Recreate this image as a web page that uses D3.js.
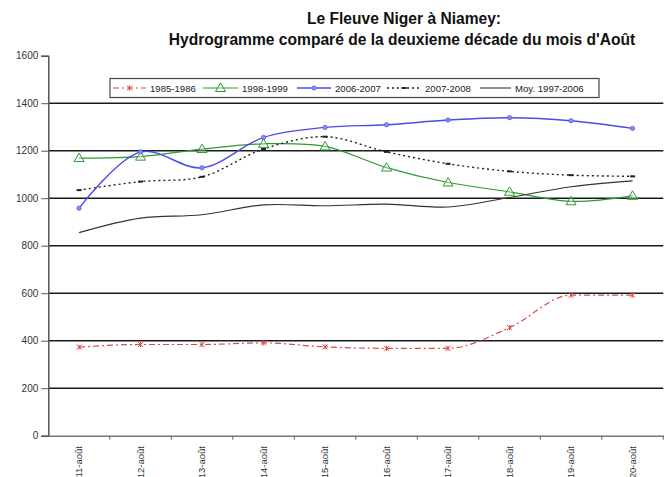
<!DOCTYPE html>
<html><head><meta charset="utf-8">
<script src="https://cdn.jsdelivr.net/npm/d3@7"></script>
<style>body{margin:0;background:#fff}svg{display:block}</style>
</head><body>
<svg id="c" width="667" height="477"></svg>
<script>
const categories = ["11-août","12-août","13-août","14-août","15-août","16-août","17-août","18-août","19-août","20-août"];
const s1985 = [373, 384, 384, 391, 374, 368, 368, 455, 592, 592];
const s1998 = [1169, 1175, 1207, 1229, 1218, 1129, 1066, 1027, 987, 1010];
const s2006 = [958, 1195, 1128, 1256, 1298, 1309, 1329, 1339, 1326, 1294];
const s2007 = [1034, 1070, 1090, 1207, 1259, 1195, 1145, 1113, 1097, 1092];
const sMoy  = [855, 916, 930, 972, 968, 975, 963, 1003, 1048, 1073];
const yTicks = [0, 200, 400, 600, 800, 1000, 1200, 1400, 1600];
const seriesNames = ["1985-1986", "1998-1999", "2006-2007", "2007-2008", "Moy. 1997-2006"];
const titleLines = ["Le Fleuve Niger à Niamey:", "Hydrogramme comparé de la deuxieme décade du mois d'Août"];

const series = [
  {name: seriesNames[0], values: s1985, color: "#e04848", width: 1.2, dash: "6,3,2,3", marker: "x", curve: d3.curveMonotoneX},
  {name: seriesNames[1], values: s1998, color: "#2e9a2e", width: 1.2, dash: null, marker: "tri", curve: d3.curveCatmullRom.alpha(0.5)},
  {name: seriesNames[2], values: s2006, color: "#4a4ae6", width: 1.4, dash: null, marker: "dot", curve: d3.curveCatmullRom.alpha(0.5)},
  {name: seriesNames[3], values: s2007, color: "#222", width: 1.4, dash: "2,3", marker: "dash", curve: d3.curveCatmullRom.alpha(0.5)},
  {name: seriesNames[4], values: sMoy,  color: "#333", width: 1.1, dash: null, marker: null, curve: d3.curveCatmullRom.alpha(0.5)}
];

const svg = d3.select("#c");
const font = "'Liberation Sans', Arial, sans-serif";
const x = d3.scaleBand().domain(categories).range([48.3, 663.3]).padding(0);
const y = d3.scaleLinear().domain([0, 1600]).range([435.7, 55.7]);
const cx = d => x(d) + x.bandwidth() / 2;

// title
svg.append("text").attr("x", 404).attr("y", 24).attr("text-anchor", "middle")
  .attr("font-family", font).attr("font-weight", "bold").attr("font-size", 15.6).attr("fill", "#111").text(titleLines[0]);
svg.append("text").attr("x", 402).attr("y", 45).attr("text-anchor", "middle")
  .attr("font-family", font).attr("font-weight", "bold").attr("font-size", 15.6).attr("fill", "#111").text(titleLines[1]);

// gridlines
svg.append("g").selectAll("line").data(yTicks.filter(t => t > 0 && t < 1600)).join("line")
  .attr("x1", 48.3).attr("x2", 663.3).attr("y1", d => y(d)).attr("y2", d => y(d))
  .attr("stroke", "#1a1a1a").attr("stroke-width", 1.5);

// y axis
const yAxis = svg.append("g").attr("transform", "translate(48.3,0)")
  .call(d3.axisLeft(y).tickValues(yTicks).tickSize(7).tickPadding(3).tickFormat(d3.format("d")));
yAxis.select(".domain").attr("stroke", "#555").attr("stroke-width", 1.5);
yAxis.selectAll(".tick line").attr("stroke", "#555");
yAxis.selectAll("text").attr("font-family", font).attr("font-size", 10).attr("fill", "#333");

// x axis
const xAxis = svg.append("g").attr("transform", "translate(0,435.7)")
  .call(d3.axisBottom(x).tickSize(0).tickFormat(""));
xAxis.select(".domain").attr("stroke", "#777").attr("stroke-width", 1.5);
xAxis.append("g").selectAll("line").data(categories).join("line")
  .attr("x1", d => x(d) + x.bandwidth()).attr("x2", d => x(d) + x.bandwidth())
  .attr("y1", 0).attr("y2", 4).attr("stroke", "#666");
svg.append("g").selectAll("text").data(categories).join("text")
  .attr("transform", d => `translate(${cx(d) + 3.2},446) rotate(-90)`)
  .attr("text-anchor", "end").attr("font-family", font).attr("font-size", 9.5).attr("fill", "#333")
  .text(d => d);

// lines
const g = svg.append("g");
series.forEach(s => {
  const line = d3.line().x((v, i) => cx(categories[i])).y(v => y(v)).curve(s.curve);
  g.append("path").attr("d", line(s.values)).attr("fill", "none")
    .attr("stroke", s.color).attr("stroke-width", s.width)
    .attr("stroke-dasharray", s.dash);
});
function drawMarker(sel, type, color, px, py) {
  if (type === "x") {
    sel.append("path").attr("d", `M${px-2.5},${py-2.5}L${px+2.5},${py+2.5}M${px-2.5},${py+2.5}L${px+2.5},${py-2.5}M${px},${py-2.5}L${px},${py+2.5}`)
      .attr("stroke", color).attr("stroke-width", 1).attr("fill", "none");
  } else if (type === "tri") {
    sel.append("path").attr("d", `M${px},${py-5}L${px+5},${py+3.5}L${px-5},${py+3.5}Z`)
      .attr("stroke", color).attr("stroke-width", 1).attr("fill", "#fff").attr("fill-opacity", 0.3);
  } else if (type === "dot") {
    sel.append("circle").attr("cx", px).attr("cy", py).attr("r", 2.2).attr("fill", "#8c8cf0").attr("stroke", color).attr("stroke-width", 0.6);
  } else if (type === "dash") {
    sel.append("line").attr("x1", px - 2.5).attr("x2", px + 2.5).attr("y1", py).attr("y2", py).attr("stroke", color).attr("stroke-width", 2);
  }
}
series.forEach(s => {
  if (!s.marker) return;
  s.values.forEach((v, i) => drawMarker(g, s.marker, s.color, cx(categories[i]), y(v)));
});

// legend
const lg = svg.append("g");
lg.append("rect").attr("x", 110).attr("y", 78.5).attr("width", 489).attr("height", 19)
  .attr("fill", "#fff").attr("stroke", "#444").attr("stroke-width", 1.2);
const legX = [113, 203, 297, 387, 480];
const legTX = [150, 242, 335, 425, 515];
series.forEach((s, i) => {
  const ly = 88;
  const x0 = legX[i], x1 = legTX[i] - 4;
  lg.append("line").attr("x1", x0).attr("x2", x1).attr("y1", ly).attr("y2", ly)
    .attr("stroke", s.color).attr("stroke-width", s.width).attr("stroke-dasharray", s.dash);
  if (s.marker) drawMarker(lg, s.marker, s.color, (x0 + x1) / 2, ly);
  lg.append("text").attr("x", legTX[i]).attr("y", ly + 3.5).attr("font-family", font)
    .attr("font-size", 9.6).attr("fill", "#222").text(s.name);
});
</script>
</body></html>
